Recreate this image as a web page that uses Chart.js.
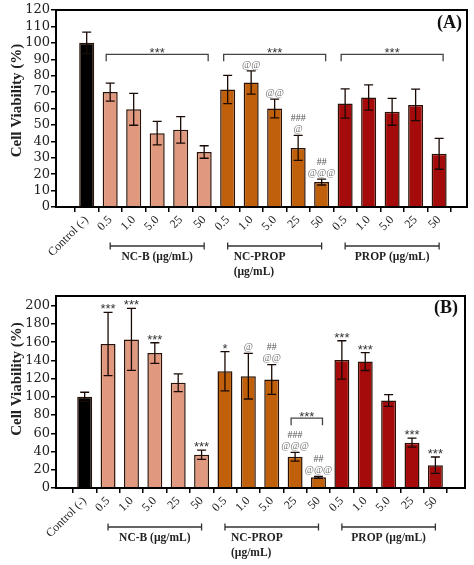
<!DOCTYPE html>
<html lang="en">
<head>
<meta charset="UTF-8">
<title>Cell Viability</title>
<script src="https://cdn.jsdelivr.net/npm/chart.js"></script>
<style>
  body { margin: 0; background: #fff; }
  .panel { position: relative; width: 474px; }
</style>
</head>
<body>
<div class="panel" style="height:280px"><canvas id="chartA"></canvas></div>
<div class="panel" style="height:285px"><canvas id="chartB"></canvas></div>
<script>
// x tick labels, one per bar
const labels = ['Control (-)', '0.5', '1.0', '5.0', '25', '50',
                '0.5', '1.0', '5.0', '25', '50',
                '0.5', '1.0', '5.0', '25', '50'];

// panel A: mean and SD
const viabilityA = [100, 70, 59.5, 45, 47, 33.5, 71.6, 75.8, 60, 36, 15.2, 63, 66.7, 58, 62.2, 32.4];
const errorA     = [6.5, 5.5, 9.7, 7.2, 8.1, 3.8, 8.6, 7.1, 5.7, 7.6, 1.8, 8.9, 7.7, 8.2, 9.6, 9.4];
const marksA = [[], [], [], [], [], [], [], ['@@'], ['@@'], ['###', '@'], ['##', '@@@'], [], [], [], [], []];
const bracketsA = [[1, 5], [6, 10], [11, 15]];
const ticksA = [0, 10, 20, 30, 40, 50, 60, 70, 80, 90, 100, 110, 120];

// panel B
const viabilityB = [100, 158, 163, 148, 115.5, 36.5, 128, 122.6, 119, 34.3, 11.7, 140.5, 138.7, 96, 49.7, 25];
const errorB     = [5, 34.7, 34, 11.3, 9.7, 5, 21.5, 25, 16.3, 4.8, 1, 21, 9.8, 6.4, 4.9, 9];
const marksB = [[], ['***'], ['***'], ['***'], [], ['***'], ['*'], ['@'], ['##', '@@'], ['###', '@@@'], ['##', '@@@'],
                ['***'], ['***'], [], ['***'], ['***']];
const bracketsB = [[9, 10]];
const ticksB = [0, 20, 40, 60, 80, 100, 120, 140, 160, 180, 200];

// treatment groups under the axis
const groups = [
  { from: 1, to: 5, lines: ['NC-B (µg/mL)'] },
  { from: 6, to: 10, lines: ['NC-PROP', '(µg/mL)'], left: true },
  { from: 11, to: 15, lines: ['PROP (µg/mL)'] }
];

const colors = ['#000000',
  '#e0997f', '#e0997f', '#e0997f', '#e0997f', '#e0997f',
  '#c0600a', '#c0600a', '#c0600a', '#c0600a', '#c0600a',
  '#a50b0b', '#a50b0b', '#a50b0b', '#a50b0b', '#a50b0b'];

function drawText(ctx, txt, x, y) {
  // asterisks sit high in the em box, nudge them down
  const star = txt.indexOf('*') >= 0;
  ctx.font = star ? '13px "Liberation Sans"' : '10px "Liberation Serif"';
  ctx.fillStyle = star ? '#333' : (txt[0] === '@' ? '#777' : '#555');
  ctx.fillText(txt, x, y + (star ? 3.5 : 0));
}

function decor(cfg) {
  return {
    id: 'decor' + cfg.tag,
    afterDatasetsDraw(chart) {
      const ctx = chart.ctx, xs = chart.scales.x, ys = chart.scales.y;
      ctx.save();
      // error bars
      ctx.strokeStyle = '#1a0a05';
      ctx.lineWidth = 1.3;
      cfg.values.forEach((v, i) => {
        const x = xs.getPixelForValue(i);
        const t = ys.getPixelForValue(v + cfg.errors[i]);
        const b = ys.getPixelForValue(v - cfg.errors[i]);
        ctx.beginPath();
        ctx.moveTo(x, t); ctx.lineTo(x, b);
        ctx.moveTo(x - 4.5, t); ctx.lineTo(x + 4.5, t);
        ctx.moveTo(x - 4.5, b); ctx.lineTo(x + 4.5, b);
        ctx.stroke();
      });
      // significance marks over each bar
      ctx.textAlign = 'center';
      ctx.textBaseline = 'middle';
      cfg.marks.forEach((m, i) => {
        const x = xs.getPixelForValue(i);
        const t = ys.getPixelForValue(cfg.values[i] + cfg.errors[i]);
        m.forEach((txt, k) => drawText(ctx, txt, x, t - 6 - (m.length - 1 - k) * 11));
      });
      // brackets
      cfg.brackets.forEach(([a, b]) => {
        const y = ys.getPixelForValue(cfg.bracketLevel);
        const x1 = xs.getPixelForValue(a) - 4, x2 = xs.getPixelForValue(b) + 4;
        ctx.strokeStyle = '#444';
        ctx.lineWidth = 1.3;
        ctx.beginPath();
        ctx.moveTo(x1, y + 7); ctx.lineTo(x1, y); ctx.lineTo(x2, y); ctx.lineTo(x2, y + 7);
        ctx.stroke();
        drawText(ctx, '***', (x1 + x2) / 2, y - 4);
      });
      ctx.restore();
    },
    afterDraw(chart) {
      const ctx = chart.ctx, xs = chart.scales.x, area = chart.chartArea;
      ctx.save();
      // frame
      ctx.strokeStyle = '#000';
      ctx.lineWidth = 2;
      ctx.strokeRect(area.left, area.top, area.right - area.left, area.bottom - area.top);
      // panel letter
      ctx.fillStyle = '#111';
      ctx.font = 'bold 18px "Liberation Serif"';
      ctx.textAlign = 'right';
      ctx.textBaseline = 'middle';
      ctx.fillText(cfg.tag, area.right - cfg.tagDx, area.top + cfg.tagDy);
      // y title
      ctx.save();
      ctx.translate(17.5, (area.top + area.bottom) / 2 - cfg.titleShift);
      ctx.rotate(-Math.PI / 2);
      ctx.textAlign = 'center';
      ctx.font = 'bold 15px "Liberation Serif"';
      ctx.fillStyle = '#222';
      ctx.fillText('Cell Viability (%)', 0, 0);
      ctx.restore();
      // group brackets and names
      const gy = area.bottom + 39;
      groups.forEach(g => {
        const x1 = xs.getPixelForValue(g.from), x2 = xs.getPixelForValue(g.to);
        ctx.strokeStyle = '#333';
        ctx.lineWidth = 1.3;
        ctx.beginPath();
        ctx.moveTo(x1, gy); ctx.lineTo(x2, gy);
        ctx.moveTo(x1, gy - 3.5); ctx.lineTo(x1, gy + 3.5);
        ctx.moveTo(x2, gy - 3.5); ctx.lineTo(x2, gy + 3.5);
        ctx.stroke();
        ctx.font = 'bold 11.5px "Liberation Serif"';
        ctx.fillStyle = '#222';
        ctx.textAlign = g.left ? 'left' : 'center';
        g.lines.forEach((ln, k) => {
          ctx.fillText(ln, g.left ? x1 + 6 : (x1 + x2) / 2, gy + 11 + k * 15);
        });
      });
      ctx.restore();
    }
  };
}

function makeChart(id, cfg) {
  new Chart(document.getElementById(id), {
    type: 'bar',
    data: {
      datasets: [{
        data: cfg.values.map((v, i) => ({ x: i, y: v })),
        backgroundColor: colors,
        borderColor: '#2a1206',
        borderWidth: 1.5,
        categoryPercentage: 0.8,
        barPercentage: 0.8
      }]
    },
    options: {
      responsive: true,
      maintainAspectRatio: false,
      animation: false,
      layout: { padding: { top: cfg.padTop, right: cfg.padRight, left: 0, bottom: 0 } },
      plugins: { legend: { display: false }, tooltip: { enabled: false } },
      scales: {
        x: {
          type: 'linear',
          min: cfg.xMin,
          max: cfg.xMax,
          afterBuildTicks: s => { s.ticks = labels.map((_, i) => ({ value: i })); },
          afterFit: s => { s.height = cfg.xHeight; },
          grid: { drawOnChartArea: false, drawTicks: true, tickLength: 5, color: '#000', lineWidth: 1.5 },
          border: { color: '#000', width: 2 },
          ticks: {
            autoSkip: false,
            minRotation: 45,
            maxRotation: 45,
            padding: 1,
            color: '#222',
            font: { family: 'Liberation Serif', size: 12 },
            callback: v => labels[v] ?? ''
          }
        },
        y: {
          min: 0,
          max: cfg.yMax,
          afterBuildTicks: s => { s.ticks = cfg.yTicks.map(v => ({ value: v })); },
          afterFit: s => { s.width = 56; },
          grid: { drawOnChartArea: false, tickLength: 5, color: '#000', lineWidth: 1.5 },
          border: { color: '#000', width: 2 },
          ticks: {
            autoSkip: false,
            padding: 1,
            color: '#222',
            font: { family: 'DejaVu Serif', size: 13 }
          }
        }
      }
    },
    plugins: [decor(cfg)]
  });
}

makeChart('chartA', {
  tag: '(A)', values: viabilityA, errors: errorA, marks: marksA,
  brackets: bracketsA, bracketLevel: 93, yTicks: ticksA,
  xMin: -0.76, xMax: 15.64, yMax: 120,
  padTop: 10, padRight: 7, xHeight: 73,
  tagDx: 5, tagDy: 13, titleShift: 8
});

makeChart('chartB', {
  tag: '(B)', values: viabilityB, errors: errorB, marks: marksB,
  brackets: bracketsB, bracketLevel: 76.6, yTicks: ticksB,
  xMin: -0.68, xMax: 15.72, yMax: 210.6,
  padTop: 16, padRight: 9, xHeight: 77,
  tagDx: 7, tagDy: 12, titleShift: 13
});
</script>
</body>
</html>
